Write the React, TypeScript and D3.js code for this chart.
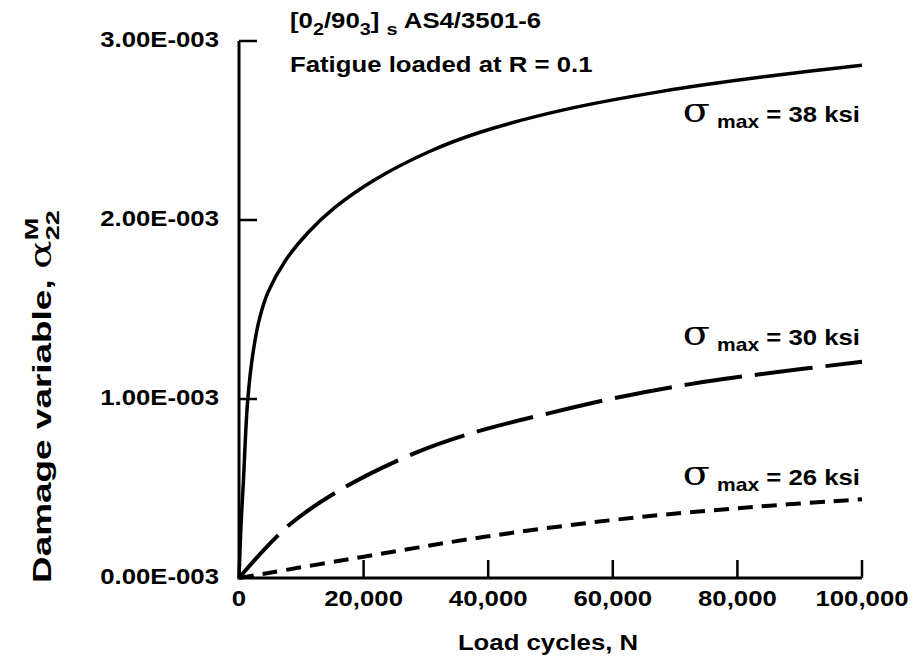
import React, { useEffect, useRef } from 'react'
import * as d3 from 'd3'

// load cycles N and damage variable (x 1e-3)
const cycles38 = [0, 300, 690, 1390, 2300, 3370, 4700, 7380, 11100, 15400, 21800, 30400, 38700, 52100, 68100, 84200, 100000]
const damage38 = [0, 0.28, 0.53, 0.99, 1.27, 1.46, 1.6, 1.77, 1.93, 2.07, 2.225, 2.38, 2.49, 2.615, 2.72, 2.8, 2.865]

const cycles30 = [0, 7750, 16150, 28400, 38100, 49700, 61400, 72400, 83300, 100000]
const damage30 = [0, 0.287, 0.49, 0.7, 0.817, 0.92, 1.013, 1.083, 1.137, 1.208]

const cycles26 = [0, 20000, 39400, 60000, 80000, 100000]
const damage26 = [0, 0.119, 0.23, 0.324, 0.39, 0.44]

const stressLabels = ['38', '30', '26']

const xTicks = [0, 20000, 40000, 60000, 80000, 100000]
const xTickLabels = ['0', '20,000', '40,000', '60,000', '80,000', '100,000']
const yTicks = [0, 1, 2, 3]
const yTickLabels = ['0.00E-003', '1.00E-003', '2.00E-003', '3.00E-003']

const FONT = '"Liberation Sans", Arial, sans-serif'
const SX = 1.17

export default function App() {
    const ref = useRef<SVGSVGElement>(null)

    useEffect(() => {
        const svg = d3.select(ref.current)
        svg.selectAll('*').remove()

        const x = d3.scaleLinear().domain([0, 100000]).range([239, 862])
        const y = d3.scaleLinear().domain([0, 3]).range([578, 41])

        const txt = (px: number, py: number, size = 22, anchor = 'start') =>
            svg.append('text')
                .attr('transform', `translate(${px},${py}) scale(${SX},1)`)
                .attr('font-family', FONT)
                .attr('font-weight', 'bold')
                .attr('font-size', size)
                .attr('text-anchor', anchor)
                .attr('fill', '#000')

        const series = [
            { n: cycles38, a: damage38, dash: null, width: 3.5, labelAt: 2.547 },
            { n: cycles30, a: damage30, dash: '58 13', width: 4, labelAt: 1.3 },
            { n: cycles26, a: damage26, dash: '15 9', width: 4, labelAt: 0.52 },
        ]

        series.forEach((s, i) => {
            const pts: [number, number][] = s.n.map((n, j) => [x(n), y(s.a[j])])
            svg.append('path')
                .attr('d', d3.line().curve(d3.curveCatmullRom.alpha(0.5))(pts))
                .attr('fill', 'none')
                .attr('stroke', '#000')
                .attr('stroke-width', s.width)
                .attr('stroke-dasharray', s.dash)

            const t = txt(860, y(s.labelAt), 22, 'end')
            t.append('tspan').attr('font-family', '"DejaVu Serif", serif').attr('font-weight', 'normal').attr('font-size', 34).text('σ')
            t.append('tspan').attr('font-size', 18).attr('dx', 1).attr('dy', 6).text(' max')
            t.append('tspan').attr('dy', -6).text(` = ${stressLabels[i]} ksi`)
        })

        // axes
        svg.append('path')
            .attr('d', `M${x(0)},${y(3)}V${y(0)}H${x(100000)}`)
            .attr('fill', 'none').attr('stroke', '#000').attr('stroke-width', 3)

        yTicks.forEach((v, i) => {
            if (v > 0) {
                svg.append('line')
                    .attr('x1', x(0)).attr('x2', x(0) + 18)
                    .attr('y1', y(v)).attr('y2', y(v))
                    .attr('stroke', '#000').attr('stroke-width', 2.5)
            }
            txt(219, y(v) + 6, 22, 'end').text(yTickLabels[i])
        })

        xTicks.forEach((v, i) => {
            if (v > 0) {
                svg.append('line')
                    .attr('x1', x(v)).attr('x2', x(v))
                    .attr('y1', y(0)).attr('y2', y(0) - 18)
                    .attr('stroke', '#000').attr('stroke-width', 2.5)
            }
            txt(x(v), 606, 22, 'middle').text(xTickLabels[i])
        })

        txt(548, 650, 22, 'middle').text('Load cycles, N')

        // y axis title, wide lettering like the scan
        const yl = svg.append('text')
            .attr('transform', 'translate(51,583) rotate(-90) scale(1.42,1)')
            .attr('font-family', FONT)
            .attr('font-weight', 'bold')
            .attr('font-size', 26)
        yl.append('tspan').text('Damage variable, ')
        yl.append('tspan').attr('font-family', '"DejaVu Serif", serif').attr('font-weight', 'normal').attr('font-size', 30).text('α')
        yl.append('tspan').attr('font-size', 19).attr('dy', 8).text('22')
        yl.append('tspan').attr('font-size', 19).attr('dx', -21).attr('dy', -21).text('M')

        // title
        const t1 = txt(290, 28, 22)
        t1.append('tspan').text('[0')
        t1.append('tspan').attr('font-size', 17).attr('dy', 7).text('2')
        t1.append('tspan').attr('dy', -7).text('/90')
        t1.append('tspan').attr('font-size', 17).attr('dy', 7).text('3')
        t1.append('tspan').attr('dy', -7).text('] ')
        t1.append('tspan').attr('font-size', 17).attr('dy', 7).text('s')
        t1.append('tspan').attr('dy', -7).text('  AS4/3501-6')

        txt(290, 72, 22).text('Fatigue loaded at R = 0.1')
    }, [])

    return (
        <svg
            ref={ref}
            width={915}
            height={665}
            style={{ position: 'absolute', left: 0, top: 0, background: '#fff' }}
        />
    )
}
